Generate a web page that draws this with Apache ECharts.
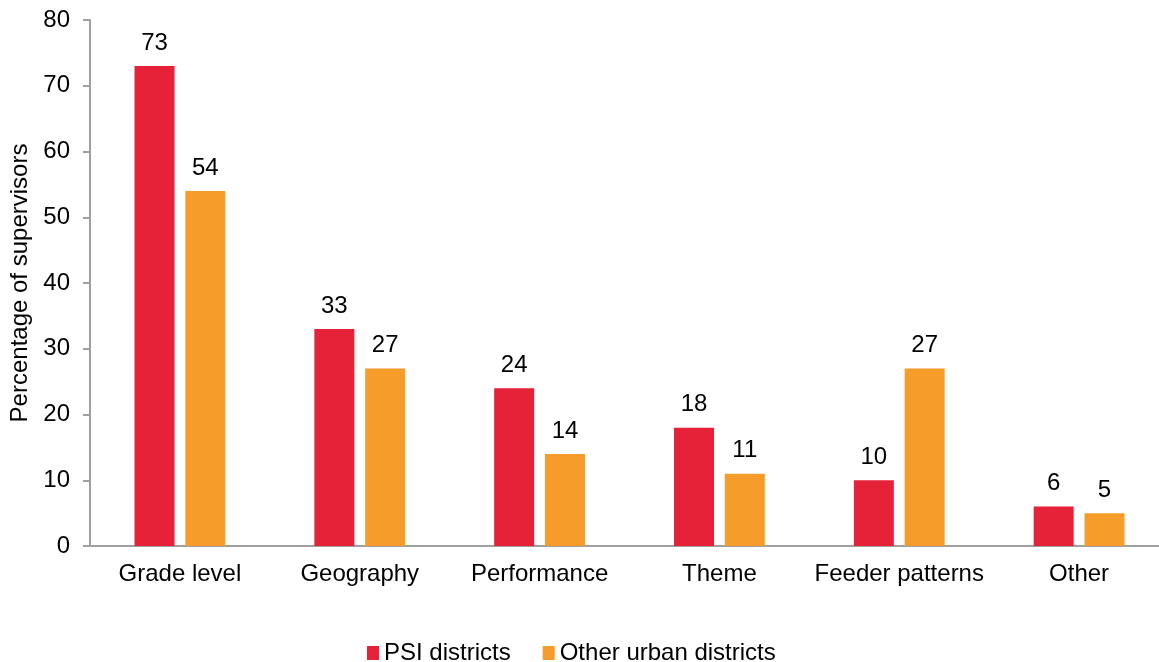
<!DOCTYPE html>
<html><head><meta charset="utf-8">
<script src="https://cdn.jsdelivr.net/npm/echarts@6/dist/echarts.min.js"></script>
<style>html,body{margin:0;padding:0;background:#fff}#c{width:1159px;height:662px}</style>
</head><body><div id="c"></div>
<script>
const categories = ["Grade level","Geography","Performance","Theme","Feeder patterns","Other"];
const psi = [73,33,24,18,10,6];
const otherUrban = [54,27,14,11,27,5];
const yTicks = {min:0,max:80,interval:10};
const font = "Liberation Sans, Arial, sans-serif";
const chart = echarts.init(document.getElementById('c'));
chart.setOption({
  animation:false,
  textStyle:{fontFamily:font},
  grid:{left:90,top:20,width:1079,height:526,containLabel:false,outerBoundsMode:'none'},
  legend:{top:636,left:362,itemWidth:12,itemHeight:14,itemGap:32,icon:'rect',
    textStyle:{fontSize:24,color:'#000',fontFamily:font},
    data:['PSI districts','Other urban districts']},
  xAxis:{type:'category',data:categories,
    axisLine:{lineStyle:{color:'#a0a0a0',width:2}},axisTick:{show:false},
    axisLabel:{fontSize:24,color:'#000',margin:16,interval:0,fontFamily:font}},
  yAxis:{type:'value',min:yTicks.min,max:yTicks.max,interval:yTicks.interval,
    name:'Percentage of supervisors',nameLocation:'middle',nameGap:58,nameRotate:90,
    nameTextStyle:{fontSize:24,color:'#000',fontFamily:font},
    axisLine:{show:true,lineStyle:{color:'#a0a0a0',width:2}},
    axisTick:{show:true,length:7,lineStyle:{color:'#a0a0a0',width:2}},
    splitLine:{show:false},
    axisLabel:{fontSize:24,color:'#000',margin:20,fontFamily:font}},
  series:[
    {name:'PSI districts',type:'bar',data:psi,barWidth:40,barGap:'27%',
     itemStyle:{color:'#e52237'},
     label:{show:true,position:'top',distance:11,fontSize:24,color:'#000',fontFamily:font}},
    {name:'Other urban districts',type:'bar',data:otherUrban,barWidth:40,
     itemStyle:{color:'#f59c2a'},
     label:{show:true,position:'top',distance:11,fontSize:24,color:'#000',fontFamily:font}}
  ]
});
</script></body></html>
